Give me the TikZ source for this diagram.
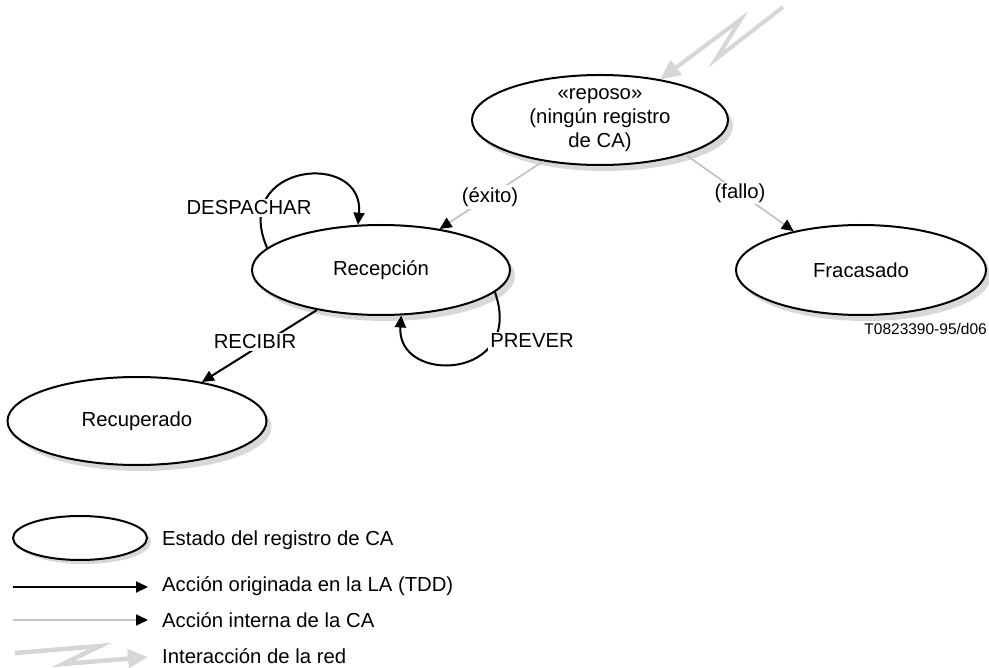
\documentclass[tikz,border=0pt]{standalone}
\usepackage{fontspec}
\setmainfont{Liberation Sans}
\usetikzlibrary{arrows.meta}
\usetikzlibrary{shapes.geometric}
\definecolor{linegray}{HTML}{C4C4C4}
\definecolor{netgray}{HTML}{D6D6D6}
\definecolor{shadegray}{HTML}{D8D8D8}
\begin{document}
\begin{tikzpicture}
	[x=1pt,y=-1pt,
	every node/.style={font=\fontsize{20.3}{24}\selectfont},
	state/.style={ellipse,draw,line width=2pt,fill=white,inner sep=0pt,align=center,
		minimum width=256pt,minimum height=90pt},
	shade/.style={ellipse,fill=shadegray,inner sep=0pt,minimum width=256pt,minimum height=90pt},
	la/.style={line width=2pt,-{Triangle[length=12pt,width=11pt]}},
	ca/.style={draw=linegray,line width=1.8pt,-{Triangle[length=12pt,width=11pt,color=black]}},
	red/.style={draw=netgray,line width=4pt,-{Triangle[length=20pt,width=18pt]}},
	lbl/.style={fill=white,inner sep=2pt},
	legtxt/.style={anchor=west,inner sep=0pt}]
	\useasboundingbox (0,0) rectangle (989,668);
	\node[shade] (repososhade) at (605,126) {};
	\node[shade,minimum width=258pt] (recepcionshade) at (386,276) {};
	\node[shade,minimum width=250pt] (fracasadoshade) at (866,276) {};
	\node[shade,minimum width=259pt,minimum height=88pt] (recuperadoshade) at (142,427) {};
	\node[shade,minimum width=134pt,minimum height=44pt] (legstateshade) at (84,542) {};
	\node[state] (reposo) at (600,120) {«reposo»\\(ningún registro\\de CA)};
	\node[state,minimum width=258pt] (recepcion) at (381,270) {Recepción};
	\node[state,minimum width=250pt] (fracasado) at (861,270) {Fracasado};
	\node[state,minimum width=259pt,minimum height=88pt] (recuperado) at (137,421) {Recuperado};
	\coordinate (net) at (783,7);
	\draw[red] (net) -- ++(-67,52) -- ++(25,-40) -- (reposo.34);
	\draw[ca] (reposo.216) -- (recepcion.35);
	\draw[ca] (reposo.-22) -- (fracasado.150);
	\draw[la] (recepcion.212) -- (recuperado.31);
	\draw[la] (recepcion.169) .. controls +(-37,-85) and +(7,-75) .. (recepcion.117);
	\draw[la] (recepcion.349) .. controls +(31,88) and +(-5,70) .. (recepcion.294);
	\node[lbl] (exito) at (490,197) {(éxito)};
	\node[lbl] (fallo) at (740,193) {(fallo)};
	\node[lbl] (recibir) at (255,342) {RECIBIR};
	\node[lbl] (despachar) at (249,208) {DESPACHAR};
	\node[lbl] (prever) at (532,341) {PREVER};
	\node[anchor=east,inner sep=0pt,font=\fontsize{15.5}{18}\selectfont] (figref) at (987,329) {T0823390-95/d06};
	\node[state,minimum width=134pt,minimum height=44pt] (legstate) at (80,538) {};
	\node[legtxt] (legstatetxt) at (162,540) {Estado del registro de CA};
	\coordinate (lla0) at (13,587);
	\coordinate (lla1) at (148,587);
	\draw[la] (lla0) -- (lla1);
	\node[legtxt] (llatxt) at (162,586) {Acción originada en la LA (TDD)};
	\coordinate (lca0) at (13,620);
	\coordinate (lca1) at (148,620);
	\draw[ca] (lca0) -- (lca1);
	\node[legtxt] (lcatxt) at (162,620) {Acción interna de la CA};
	\coordinate (lnet0) at (15,653);
	\coordinate (lnet1) at (148,657);
	\draw[red,line width=4.5pt] (lnet0) -- ++(85,-7) -- ++(-37,18) -- (lnet1);
	\node[legtxt] (lnettxt) at (162,656) {Interacción de la red};
\end{tikzpicture}
\end{document}
